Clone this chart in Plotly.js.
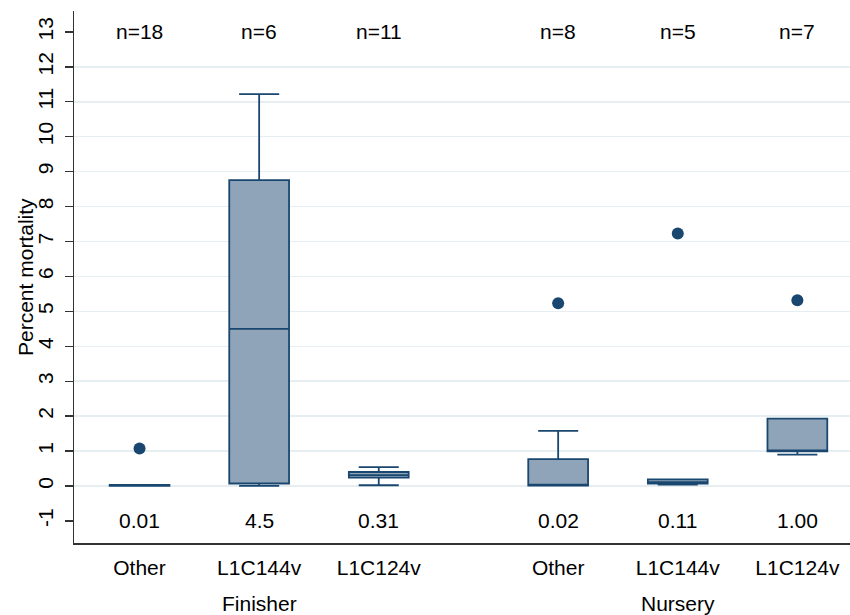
<!DOCTYPE html>
<html>
<head>
<meta charset="utf-8">
<script src="https://cdn.plot.ly/plotly-3.0.1.min.js"></script>
<style>html,body{margin:0;padding:0;background:#fff;}#chart{width:850px;height:615px;}</style>
</head>
<body>
<div id="chart"></div>
<script>
// Data
const catLabels = ["Other", "L1C144v", "L1C124v", "Other", "L1C144v", "L1C124v"];
const catPos = [1, 2, 3, 4.5, 5.5, 6.5];
const groupLabels = ["Finisher", "Nursery"];
const groupPos = [2, 5.5];
const q1 = [0.00, 0.07, 0.24, 0.01, 0.07, 0.99];
const median = [0.01, 4.50, 0.31, 0.02, 0.11, 1.00];
const q3 = [0.03, 8.76, 0.40, 0.77, 0.19, 1.93];
const lowerWhisker = [0.00, 0.00, 0.02, 0.01, 0.04, 0.90];
const upperWhisker = [0.03, 11.22, 0.54, 1.58, 0.19, 1.93];
const outlierX = [1, 4.5, 5.5, 6.5];
const outlierY = [1.07, 5.23, 7.23, 5.32];
const nLabels = ["n=18", "n=6", "n=11", "n=8", "n=5", "n=7"];
const medianLabels = ["0.01", "4.5", "0.31", "0.02", "0.11", "1.00"];
const yTicks = [-1, 0, 1, 2, 3, 4, 5, 6, 7, 8, 9, 10, 11, 12, 13];
const gridVals = [0, 1, 2, 3, 4, 5, 6, 7, 8, 9, 10, 11, 12];

const navy = "#1a476f";
const fill = "#8fa4b8";
const font = "Liberation Sans, Arial, sans-serif";
const fs = 21;
const yRange = [-1.633, 13.6];

const traces = [
  {
    type: "box",
    x: catPos,
    q1: q1, median: median, q3: q3,
    lowerfence: lowerWhisker, upperfence: upperWhisker,
    width: 0.5,
    whiskerwidth: 0.67,
    fillcolor: fill,
    line: {color: navy, width: 1.8},
    boxpoints: false,
    showlegend: false,
    hoverinfo: "skip"
  },
  {
    type: "scatter",
    mode: "markers",
    x: outlierX, y: outlierY,
    marker: {color: navy, size: 12},
    showlegend: false,
    hoverinfo: "skip"
  },
  {
    type: "scatter", x: [], y: [], yaxis: "y2", showlegend: false, hoverinfo: "skip"
  }
];

const annotations = [];
catPos.forEach((p, i) => {
  annotations.push({x: p, y: 13, xref: "x", yref: "y", text: nLabels[i], showarrow: false,
    font: {family: font, size: fs, color: "#000"}});
  annotations.push({x: p, y: -1, xref: "x", yref: "y", text: medianLabels[i], showarrow: false,
    font: {family: font, size: fs, color: "#000"}});
});
groupPos.forEach((p, i) => {
  annotations.push({x: p, y: 0, xref: "x", yref: "paper", yanchor: "middle", yshift: -60,
    text: groupLabels[i], showarrow: false, font: {family: font, size: fs, color: "#000"}});
});
annotations.push({x: 0, y: 0.5, xref: "paper", yref: "paper", xanchor: "center", yanchor: "middle",
  xshift: -49, textangle: -90, text: "Percent mortality", showarrow: false,
  font: {family: font, size: fs, color: "#000"}});

const layout = {
  width: 850, height: 615,
  margin: {l: 74, r: 0, t: 11, b: 72},
  paper_bgcolor: "#fff", plot_bgcolor: "#fff",
  font: {family: font, size: fs, color: "#000"},
  showlegend: false,
  xaxis: {
    range: [0.452, 6.94],
    tickvals: catPos, ticktext: catLabels,
    ticks: "", showgrid: false, zeroline: false,
    showline: true, linecolor: "#333", linewidth: 1.5,
    ticklabelstandoff: 5,
    tickfont: {family: font, size: fs, color: "#000"}
  },
  yaxis: {
    range: yRange,
    tickvals: yTicks, ticktext: yTicks.map(String),
    tickangle: -90,
    ticks: "outside", ticklen: 8, tickwidth: 1.3, tickcolor: "#333",
    ticklabelstandoff: 3,
    showgrid: false, zeroline: false,
    showline: true, linecolor: "#333", linewidth: 1.5,
    tickfont: {family: font, size: fs, color: "#000"}
  },
  yaxis2: {
    overlaying: "y", range: yRange,
    tickvals: gridVals, showticklabels: false, ticks: "",
    showgrid: true, gridcolor: "#e6eef1", gridwidth: 1.5,
    zeroline: false, showline: false
  },
  annotations: annotations
};

Plotly.newPlot("chart", traces, layout, {staticPlot: true, displayModeBar: false});
</script>
</body>
</html>
